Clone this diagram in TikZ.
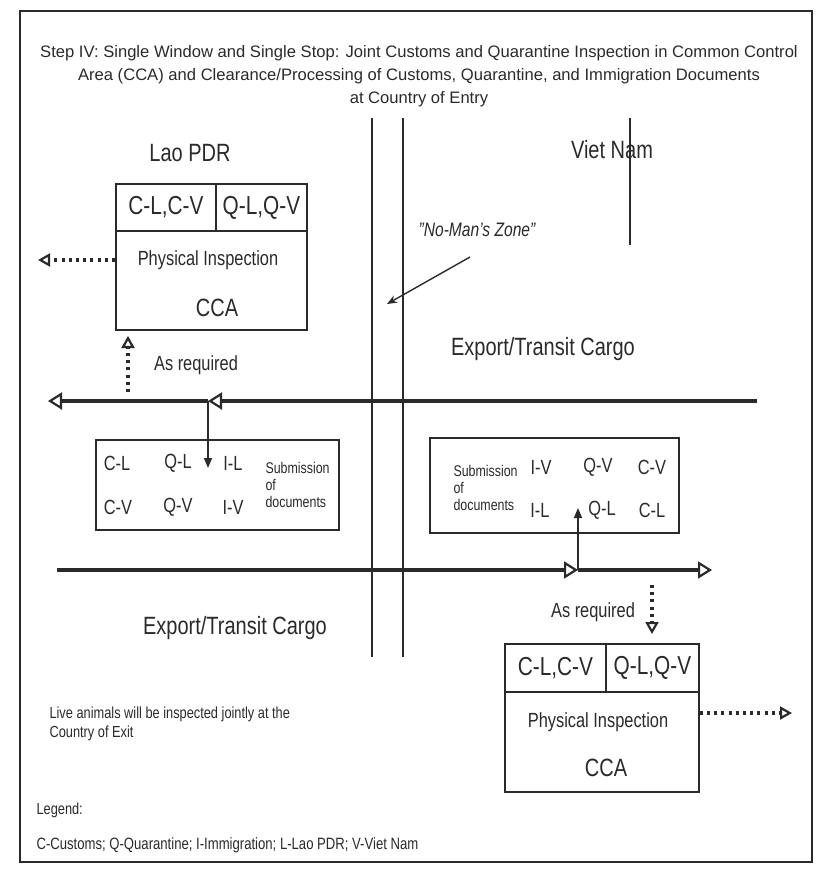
\documentclass[tikz,border=0pt]{standalone}
\usepackage{fontspec}
\setmainfont[FakeStretch=0.8]{Liberation Sans}
\newfontfamily\titlefont{Liberation Sans}
\usetikzlibrary{arrows.meta}
\definecolor{ink}{HTML}{2A2A2A}

\begin{document}
\begin{tikzpicture}[x=1pt, y=-1pt, color=ink, text=ink,
    box/.style={draw, line width=1.8pt, inner sep=0pt, anchor=north west},
    flow/.style={line width=3.2pt, -{Triangle[open, length=14pt, width=17pt, line width=2.2pt]}},
    dots/.style={line width=3.6pt, dash pattern=on 3pt off 4.2pt, -{Triangle[open, length=12pt, width=13pt, line width=2.2pt]}},
    sub/.style={line width=1.6pt, -{Triangle[length=10pt, width=8pt]}},
    big/.style={font=\fontsize{25}{28}\selectfont},
    mid/.style={font=\fontsize{20.5}{24}\selectfont},
    tiny/.style={font=\fontsize{16}{19}\selectfont}]
    \useasboundingbox (0,0) rectangle (819,869);

    % frame and title
    \draw[line width=1.4pt] (20,11) rectangle (812,862);
    \node[align=center, font=\titlefont\fontsize{16.6}{23}\selectfont] (title) at (419,76)
        {Step IV: Single Window and Single Stop: Joint Customs and Quarantine Inspection in Common Control\\
         Area (CCA) and Clearance/Processing of Customs, Quarantine, and Immigration Documents\\
         at Country of Entry};

    % border lines
    \coordinate (bordLtop) at (372,118);
    \coordinate (bordLbot) at (372,657);
    \coordinate (bordRtop) at (403,118);
    \coordinate (bordRbot) at (403,657);
    \coordinate (vnTop) at (630,118);
    \coordinate (vnBot) at (630,245);
    \draw[line width=1.5pt] (bordLtop) -- (bordLbot);
    \draw[line width=1.5pt] (bordRtop) -- (bordRbot);
    \draw[line width=1.5pt] (vnTop) -- (vnBot);

    \node[big] (lao) at (190,153) {Lao PDR};
    \node[big] (vn) at (612,150) {Viet Nam};

    % CCA in Lao PDR
    \node[box, minimum width=100, minimum height=47, big, font=\fontsize{26}{28}\selectfont] (laoC) at (115,183) {C-L,C-V};
    \node[box, minimum width=91, minimum height=47, big, font=\fontsize{26}{28}\selectfont] (laoQ) at (215,183) {Q-L,Q-V};
    \node[box, minimum width=191, minimum height=99] (laoCCA) at (115,230) {};
    \node[mid] (laoPI) at (208,260) {Physical Inspection};
    \node[big] (laoCCAtxt) at (217,308) {CCA};
    \coordinate (laoOut) at (38,260);
    \draw[dots] (laoCCA.west |- laoPI) -- (laoOut);

    % no-man's zone
    \node[font=\fontsize{19.5}{22}\selectfont\itshape] (nmz) at (477,230) {"No-Man's Zone"};
    \coordinate (nmzFrom) at (470,257);
    \coordinate (nmzTo) at (387,304);
    \draw[line width=1.4pt, -{Stealth[length=10pt, width=8pt]}] (nmzFrom) -- (nmzTo);

    % upper cargo flow
    \node[big] (cargoTop) at (543,349) {Export/Transit Cargo};
    \coordinate (topR) at (757,401);
    \coordinate (topM) at (208,401);
    \coordinate (topL) at (48,401);
    \draw[flow] (topR) -- (topM);
    \draw[flow] (topM) -- (topL);

    \coordinate (laoReqFrom) at (128,392);
    \coordinate (laoReqTo) at (128,336);
    \draw[dots] (laoReqFrom) -- (laoReqTo);
    \node[mid] (laoReq) at (196,365) {As required};

    % documents in Lao PDR
    \node[box, minimum width=243, minimum height=90] (laoDoc) at (95,439) {};
    \node[mid] (laoCL) at (117,463) {C-L};
    \node[mid] (laoQL) at (178,463) {Q-L};
    \node[mid] (laoIL) at (233,463) {I-L};
    \node[mid] (laoCV) at (118,507) {C-V};
    \node[mid] (laoQV) at (178,507) {Q-V};
    \node[mid] (laoIV) at (233,507) {I-V};
    \node[align=left, anchor=west, font=\fontsize{15.5}{17}\selectfont] (laoSub) at (262,485) {Submission\\of\\documents};
    \coordinate (laoDocTip) at (208,468);
    \draw[sub] (topM) -- (laoDocTip);

    % documents in Viet Nam
    \node[box, minimum width=249, minimum height=95] (vnDoc) at (429,437) {};
    \node[align=left, anchor=west, font=\fontsize{15.5}{17}\selectfont] (vnSub) at (450,488) {Submission\\of\\documents};
    \node[mid] (vnIV) at (541,467) {I-V};
    \node[mid] (vnQV) at (598,467) {Q-V};
    \node[mid] (vnCV) at (652,467) {C-V};
    \node[mid] (vnIL) at (540,510) {I-L};
    \node[mid] (vnQL) at (602,510) {Q-L};
    \node[mid] (vnCL) at (652,510) {C-L};

    % lower cargo flow
    \coordinate (botL) at (57,570);
    \coordinate (botM) at (578,570);
    \coordinate (botR) at (712,570);
    \draw[flow] (botL) -- (botM);
    \draw[flow] (botM) -- (botR);
    \coordinate (vnDocTip) at (578,508);
    \draw[sub] (botM) -- (vnDocTip);
    \node[big] (cargoBot) at (235,628) {Export/Transit Cargo};

    \coordinate (vnReqFrom) at (652,585);
    \coordinate (vnReqTo) at (652,634);
    \draw[dots] (vnReqFrom) -- (vnReqTo);
    \node[mid] (vnReq) at (593,612) {As required};

    % CCA in Viet Nam
    \node[box, minimum width=101, minimum height=48, big, font=\fontsize{26}{28}\selectfont] (vnC) at (504,643) {C-L,C-V};
    \node[box, minimum width=93, minimum height=48, big, font=\fontsize{26}{28}\selectfont] (vnQ) at (605,643) {Q-L,Q-V};
    \node[box, minimum width=194, minimum height=100] (vnCCA) at (504,691) {};
    \node[mid] (vnPI) at (598,722) {Physical Inspection};
    \node[big] (vnCCAtxt) at (606,768) {CCA};
    \coordinate (vnOut) at (792,713);
    \draw[dots] (vnCCA.east |- vnOut) -- (vnOut);

    % notes
    \node[tiny, align=left, anchor=north west] (note) at (46,703) {Live animals will be inspected jointly at the\\Country of Exit};
    \node[tiny, anchor=west] (legend) at (33,810) {Legend:};
    \node[tiny, anchor=west, font=\fontsize{16.4}{19}\selectfont] (legendTxt) at (33,845) {C-Customs; Q-Quarantine; I-Immigration; L-Lao PDR; V-Viet Nam};
\end{tikzpicture}
\end{document}
